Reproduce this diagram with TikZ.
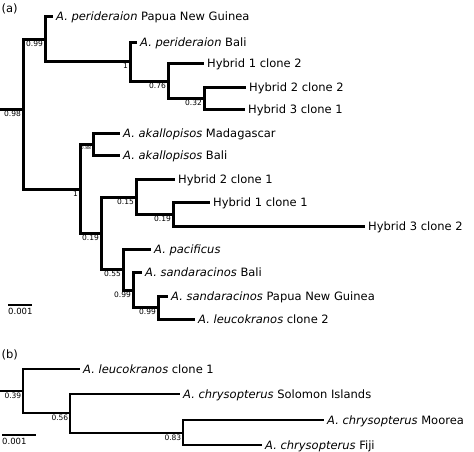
\documentclass[tikz,border=0pt]{standalone}
\usepackage{fontspec}
\setmainfont{DejaVu Sans}
\usetikzlibrary{calc}
\begin{document}
\begin{tikzpicture}[x=1pt,y=-1pt,line cap=butt,line join=miter,
  bra/.style={line width=3pt},
  brb/.style={line width=2pt},
  leaf/.style={anchor=west,inner xsep=3pt,inner ysep=0pt,font=\fontsize{11.5}{13}\selectfont,text height=8.4pt,text depth=0pt},
  supp/.style={anchor=north east,inner sep=0.4pt,font=\fontsize{7.5}{8}\selectfont},
  tinysupp/.style={anchor=north east,inner sep=0.2pt,font=\fontsize{4.5}{5}\selectfont},
  scalebar/.style={line width=1.2pt},
  scalelab/.style={anchor=north west,inner sep=0pt,font=\fontsize{8.5}{9}\selectfont},
  panel/.style={anchor=west,inner sep=0pt,font=\fontsize{11.5}{13}\selectfont}]
\useasboundingbox (0,0) rectangle (474,451);

% ---------- panel (a) ----------
\node[panel] (pa) at (1.5,9) {(a)};
\coordinate (ra0) at (0,109);
\coordinate (ra) at (23,109);
\coordinate (n099) at (45,39);
\coordinate (n1) at (130,61);
\coordinate (n076) at (168,81);
\coordinate (n032) at (204,98);
\coordinate (n1b) at (80,189);
\coordinate (nak) at (93,144);
\coordinate (n019a) at (101,233);
\coordinate (n015) at (136,197);
\coordinate (n019b) at (173,214);
\coordinate (n055) at (123,269);
\coordinate (n099b) at (133,290);
\coordinate (n099c) at (158,307);

\node[leaf] (l1) at (53,16) {\textit{A. perideraion} Papua New Guinea};
\node[leaf] (l2) at (137,42) {\textit{A. perideraion} Bali};
\node[leaf] (l3) at (204,63) {Hybrid 1 clone 2};
\node[leaf] (l4) at (246,87) {Hybrid 2 clone 2};
\node[leaf] (l5) at (245,109) {Hybrid 3 clone 1};
\node[leaf] (l6) at (120,133) {\textit{A. akallopisos} Madagascar};
\node[leaf] (l7) at (120,155) {\textit{A. akallopisos} Bali};
\node[leaf] (l8) at (175,179) {Hybrid 2 clone 1};
\node[leaf] (l9) at (210,202) {Hybrid 1 clone 1};
\node[leaf] (l10) at (365,226) {Hybrid 3 clone 2};
\node[leaf] (l11) at (151,249) {\textit{A. pacificus}};
\node[leaf] (l12) at (142,272) {\textit{A. sandaracinos} Bali};
\node[leaf] (l13) at (168,296) {\textit{A. sandaracinos} Papua New Guinea};
\node[leaf] (l14) at (195,319) {\textit{A. leucokranos} clone 2};

\draw[bra] (ra0) -- (ra);
\draw[bra] (ra) |- (n099);
\draw[bra] (ra) |- (n1b);
\draw[bra] (n099) |- (l1.west);
\draw[bra] (n099) |- (n1);
\draw[bra] (n1) |- (l2.west);
\draw[bra] (n1) |- (n076);
\draw[bra] (n076) |- (l3.west);
\draw[bra] (n076) |- (n032);
\draw[bra] (n032) |- (l4.west);
\draw[bra] (n032) |- (l5.west);
\draw[bra] (n1b) |- (nak);
\draw[bra] (n1b) |- (n019a);
\draw[bra] (nak) |- (l6.west);
\draw[bra] (nak) |- (l7.west);
\draw[bra] (n019a) |- (n015);
\draw[bra] (n019a) |- (n055);
\draw[bra] (n015) |- (l8.west);
\draw[bra] (n015) |- (n019b);
\draw[bra] (n019b) |- (l9.west);
\draw[bra] (n019b) |- (l10.west);
\draw[bra] (n055) |- (l11.west);
\draw[bra] (n055) |- (n099b);
\draw[bra] (n099b) |- (l12.west);
\draw[bra] (n099b) |- (n099c);
\draw[bra] (n099c) |- (l13.west);
\draw[bra] (n099c) |- (l14.west);

\node[supp] (s1) at ($(ra)+(-1.6,1.8)$) {0.98};
\node[supp] (s2) at ($(n099)+(-1.6,1.8)$) {0.99};
\node[supp] (s3) at ($(n1)+(-1.6,1.8)$) {1};
\node[supp] (s4) at ($(n076)+(-1.6,1.8)$) {0.76};
\node[supp] (s5) at ($(n032)+(-1.6,1.8)$) {0.32};
\node[supp] (s6) at ($(n1b)+(-1.6,1.8)$) {1};
\node[tinysupp] (s7) at ($(nak)+(-1.6,1.8)$) {0.88};
\node[supp] (s8) at ($(n019a)+(-1.6,1.8)$) {0.19};
\node[supp] (s9) at ($(n015)+(-1.6,1.8)$) {0.15};
\node[supp] (s10) at ($(n019b)+(-1.6,1.8)$) {0.19};
\node[supp] (s11) at ($(n055)+(-1.6,1.8)$) {0.55};
\node[supp] (s12) at ($(n099b)+(-1.6,1.8)$) {0.99};
\node[supp] (s13) at ($(n099c)+(-1.6,1.8)$) {0.99};

\coordinate (sa0) at (8,305);
\coordinate (sa1) at (32,305);
\draw[scalebar] (sa0) -- (sa1);
\node[scalelab] (sal) at ($(sa0)+(0,2.5)$) {0.001};

% ---------- panel (b) ----------
\node[panel] (pb) at (1.5,355) {(b)};
\coordinate (rb0) at (0,391);
\coordinate (rb) at (23,391);
\coordinate (n056) at (70,413);
\coordinate (n083) at (183,433);

\node[leaf] (l15) at (80,369) {\textit{A. leucokranos} clone 1};
\node[leaf] (l16) at (180,394) {\textit{A. chrysopterus} Solomon Islands};
\node[leaf] (l17) at (324,420) {\textit{A. chrysopterus} Moorea};
\node[leaf] (l18) at (262,445) {\textit{A. chrysopterus} Fiji};

\draw[brb] (rb0) -- (rb);
\draw[brb] (rb) |- (l15.west);
\draw[brb] (rb) |- (n056);
\draw[brb] (n056) |- (l16.west);
\draw[brb] (n056) |- (n083);
\draw[brb] (n083) |- (l17.west);
\draw[brb] (n083) |- (l18.west);

\node[supp] (s14) at ($(rb)+(-1.2,1.4)$) {0.39};
\node[supp] (s15) at ($(n056)+(-1.2,1.4)$) {0.56};
\node[supp] (s16) at ($(n083)+(-1.2,1.4)$) {0.83};

\coordinate (sb0) at (2,435);
\coordinate (sb1) at (36,435);
\draw[scalebar] (sb0) -- (sb1);
\node[scalelab] (sbl) at ($(sb0)+(0,2.5)$) {0.001};
\end{tikzpicture}
\end{document}
